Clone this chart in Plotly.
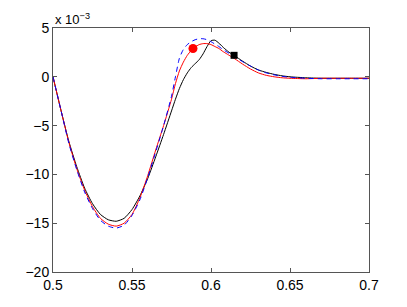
import plotly.graph_objects as go

x = [0.5, 0.505, 0.51, 0.515, 0.52, 0.525, 0.53, 0.535, 0.54, 0.545, 0.55, 0.555,
     0.56, 0.565, 0.57, 0.575, 0.5775, 0.58, 0.5825, 0.585, 0.5875, 0.59, 0.5925,
     0.595, 0.5975, 0.6, 0.6025, 0.605, 0.6075, 0.61, 0.6125, 0.615, 0.62, 0.625,
     0.63, 0.635, 0.64, 0.645, 0.65, 0.66, 0.67, 0.68, 0.69, 0.7]

black = [0.0, -3.4, -6.6, -9.2, -11.4, -13.0, -14.1, -14.65, -14.8, -14.5, -13.6, -12.2,
         -10.4, -8.2, -5.9, -3.5, -2.3, -1.2, -0.3, 0.4, 0.95, 1.35, 1.75,
         2.35, 3.1, 3.7, 3.75, 3.45, 3.05, 2.7, 2.4, 2.15, 1.6, 1.1,
         0.7, 0.45, 0.25, 0.1, 0.0, -0.1, -0.15, -0.15, -0.15, -0.15]

red = [0.0, -3.4, -6.7, -9.4, -11.6, -13.3, -14.5, -15.1, -15.3, -15.0, -14.1, -12.4,
       -10.1, -7.5, -5.0, -2.3, -0.7, 0.6, 1.5, 2.2, 2.7, 3.05, 3.3,
       3.4, 3.4, 3.3, 3.1, 2.9, 2.6, 2.35, 2.1, 1.85, 1.3, 0.8,
       0.4, 0.15, 0.0, -0.1, -0.15, -0.2, -0.15, -0.15, -0.15, -0.15]

blue = [0.0, -3.4, -6.8, -9.5, -11.8, -13.5, -14.7, -15.3, -15.5, -15.2, -14.2, -12.6,
        -10.3, -7.7, -5.0, -2.0, 0.0, 1.9, 2.8, 3.3, 3.6, 3.8, 3.9,
        3.9, 3.8, 3.6, 3.35, 3.1, 2.8, 2.55, 2.3, 2.05, 1.55, 1.1,
        0.7, 0.4, 0.2, 0.05, -0.05, -0.15, -0.2, -0.2, -0.2, -0.2]

red_pt_x = [0.5886]
red_pt_y = [2.9]
sq_pt_x = [0.6146]
sq_pt_y = [2.2]

xticks = [0.5, 0.55, 0.6, 0.65, 0.7]
xticklabels = ["0.5", "0.55", "0.6", "0.65", "0.7"]
yticks = [-20, -15, -10, -5, 0, 5]

fig = go.Figure()
fig.add_trace(go.Scatter(x=x, y=black, mode="lines", line=dict(color="black", width=1, shape="spline", smoothing=0.6)))
fig.add_trace(go.Scatter(x=x, y=red, mode="lines", line=dict(color="red", width=1, shape="spline", smoothing=0.6)))
fig.add_trace(go.Scatter(x=x, y=blue, mode="lines", line=dict(color="blue", width=1, dash="5px,4px", shape="spline", smoothing=0.6)))
fig.add_trace(go.Scatter(x=red_pt_x, y=red_pt_y, mode="markers", marker=dict(color="red", size=9, symbol="circle")))
fig.add_trace(go.Scatter(x=sq_pt_x, y=sq_pt_y, mode="markers", marker=dict(color="black", size=7, symbol="square")))

axis_common = dict(showgrid=False, zeroline=False, showline=True, linecolor="#555", linewidth=1,
                   mirror="ticks", ticks="inside", ticklen=4, tickcolor="#555",
                   tickfont=dict(family="Liberation Sans, Arial", size=14, color="black"))

fig.update_xaxes(range=[0.5, 0.7], tickvals=xticks, ticktext=xticklabels, **axis_common)
fig.update_yaxes(range=[-20, 5], tickvals=yticks, **axis_common)

fig.add_annotation(text="x 10<sup>−3</sup>", xref="paper", yref="paper", x=0.0, y=1.0,
                   xanchor="left", yanchor="bottom", showarrow=False, xshift=0, yshift=-1,
                   font=dict(family="Liberation Sans, Arial", size=13, color="black"))

# the page body has an 8px margin, so the figure is shifted by 8px; compensate
fig.update_layout(width=399, height=299, margin=dict(l=45, r=38, t=15, b=35),
                  paper_bgcolor="white", plot_bgcolor="white", showlegend=False)

fig.write_html("out.html")
